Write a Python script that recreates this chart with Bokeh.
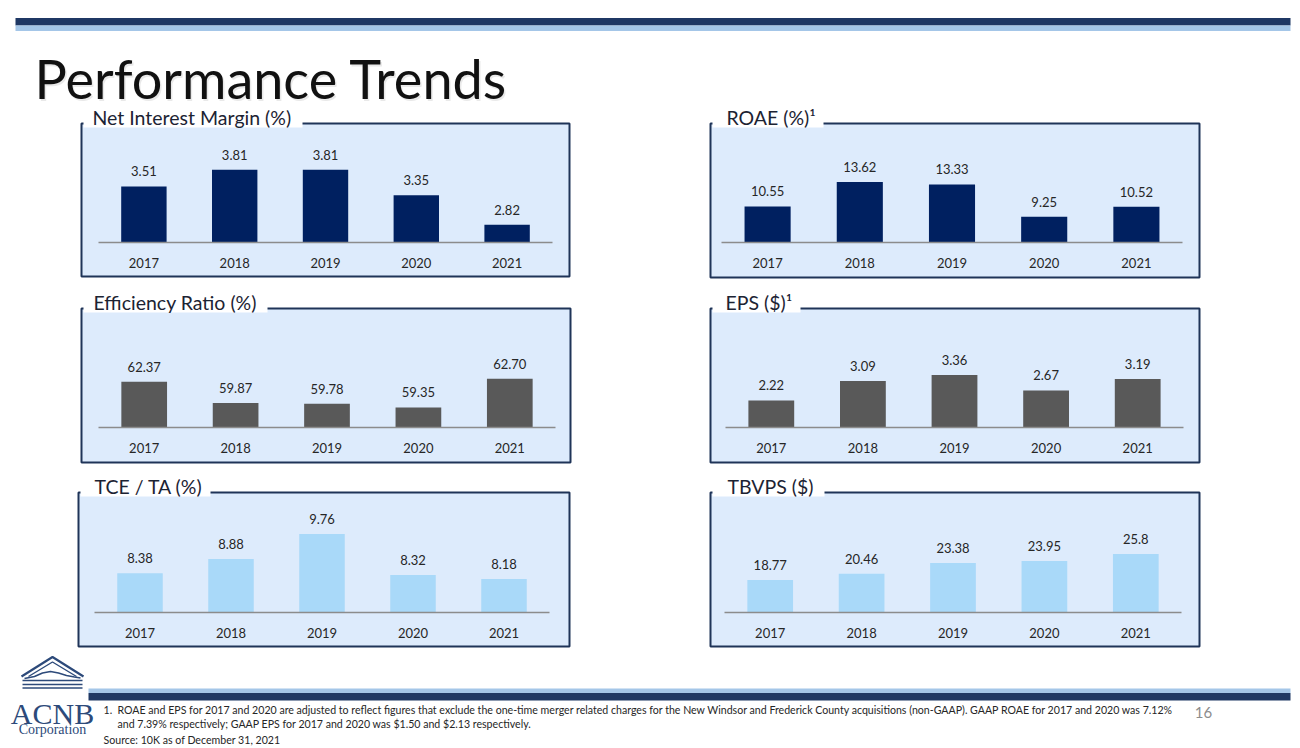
from bokeh.plotting import figure
from bokeh.models import Range1d, ColumnDataSource
from bokeh.core.properties import value
from bokeh.embed import file_html
from bokeh.resources import INLINE

# ---- data -------------------------------------------------------------
years = ["2017", "2018", "2019", "2020", "2021"]
net_interest_margin = [3.51, 3.81, 3.81, 3.35, 2.82]
roae = [10.55, 13.62, 13.33, 9.25, 10.52]
efficiency_ratio = [62.37, 59.87, 59.78, 59.35, 62.70]
eps = [2.22, 3.09, 3.36, 2.67, 3.19]
tce_ta = [8.38, 8.88, 9.76, 8.32, 8.18]
tbvps = [18.77, 20.46, 23.38, 23.95, 25.80]

panel_titles = ["Net Interest Margin (%)", "ROAE (%)\u00b9", "Efficiency Ratio (%)",
                "EPS ($)\u00b9", "TCE / TA (%)", "TBVPS ($)"]

# value-axis bounds of each chart (min, max)
axis_bounds = [(2.5, 4.5), (6, 20), (57, 70), (1, 6), (7, 10.9), (10, 40)]

footnote_1 = ("ROAE and EPS for 2017 and 2020 are adjusted to reflect figures that exclude the one-time "
              "merger related charges for the New Windsor and Frederick County acquisitions (non-GAAP).  "
              "GAAP ROAE for 2017 and 2020 was 7.12%")
footnote_2 = "and 7.39% respectively; GAAP EPS for 2017 and 2020 was $1.50 and $2.13 respectively."
source_note = "Source:  10K as of December 31, 2021"


def fixed2(v):
    return "%.2f" % v


def general(v):
    return ("%.2f" % v).rstrip("0").rstrip(".")


# ---- styling / layout ---------------------------------------------------
W, H = 1300, 748
NAVY = "#002060"
GRAY = "#595959"
LIGHT = "#A9D9F9"
PANEL_BG = "#DDEBFC"
FRAME = "#1F3458"
STRIPE_DARK = "#1F3864"
STRIPE_LIGHT = "#A4C6E8"
TEXT = "#262626"
FONT = value("Lato")
PLOT_H = 111  # pixels between baseline and top of value axis

# frame (left, right, top, bottom), tab right edge, title x, category axis span, baseline
layout = [
    dict(frame=(81, 569, 123, 276), tab=302, tx=92, axis=(98, 552), base=242, color=NAVY, fmt=fixed2),
    dict(frame=(710, 1199, 123, 277), tab=823, tx=726, axis=(721, 1182), base=242, color=NAVY, fmt=fixed2),
    dict(frame=(81, 570, 308, 462), tab=267, tx=93, axis=(98, 555), base=427, color=GRAY, fmt=fixed2),
    dict(frame=(710, 1199, 308, 462), tab=800, tx=725, axis=(725, 1183), base=427, color=GRAY, fmt=fixed2),
    dict(frame=(78, 569, 492, 646), tab=210, tx=94, axis=(94, 549), base=612, color=LIGHT, fmt=fixed2),
    dict(frame=(710, 1199, 492, 646), tab=824, tx=727, axis=(724, 1181), base=612, color=LIGHT, fmt=general),
]
series = [net_interest_margin, roae, efficiency_ratio, eps, tce_ta, tbvps]

p = figure(width=W, height=H, x_range=Range1d(0, W), y_range=Range1d(H, 0),
           output_backend="svg", toolbar_location=None, min_border=0,
           x_axis_location=None, y_axis_location=None)
p.grid.visible = False
p.outline_line_color = None
p.background_fill_color = "white"
p.border_fill_color = "white"

# ---- header ---------------------------------------------------------------
p.quad(left=15, right=1290, top=17.5, bottom=25, fill_color=STRIPE_DARK, line_color=None)
p.quad(left=15, right=1290, top=25, bottom=30.5, fill_color=STRIPE_LIGHT, line_color=None)
p.text(x=[35.5], y=[79.5], text=["Performance Trends"], text_font=FONT, text_font_size="54px",
       text_color="#9a9a9a", text_alpha=0.22, text_baseline="alphabetic")
p.text(x=[34], y=[78], text=["Performance Trends"], text_font=FONT, text_font_size="54px",
       text_color="#111111", text_baseline="alphabetic")

# ---- charts ---------------------------------------------------------------
n = len(years)
idx = list(range(n))
for i, (title, vals, (vmin, vmax), cfg) in enumerate(zip(panel_titles, series, axis_bounds, layout)):
    l, r, t, b = cfg["frame"]
    p.quad(left=l, right=r, top=t, bottom=b, fill_color=PANEL_BG,
           line_color=FRAME, line_width=2)

    ax0, ax1 = cfg["axis"]
    step = (ax1 - ax0) / n
    xr, yr = "x%d" % i, "y%d" % i
    p.extra_x_ranges[xr] = Range1d((0 - ax0) / step - 0.5, (W - ax0) / step - 0.5)
    k = PLOT_H / (vmax - vmin)
    base = cfg["base"]
    p.extra_y_ranges[yr] = Range1d(vmin + (base - H) / k, vmin + base / k)

    src = ColumnDataSource(dict(x=idx, v=vals, year=years,
                                label=[cfg["fmt"](v) for v in vals],
                                floor=[vmin] * n))
    p.vbar(x="x", top="v", bottom="floor", width=0.5, source=src,
           fill_color=cfg["color"], line_color=None, x_range_name=xr, y_range_name=yr)
    p.segment(x0=[-0.5], x1=[n - 0.5], y0=[vmin], y1=[vmin], line_color="#8C8C8C",
              line_width=1.6, x_range_name=xr, y_range_name=yr)
    p.text(x="x", y="v", text="label", source=src, y_offset=-15, text_align="center",
           text_baseline="middle", text_font=FONT, text_font_size="13px", text_color=TEXT,
           x_range_name=xr, y_range_name=yr)
    p.text(x="x", y="floor", text="year", source=src, y_offset=20, text_align="center",
           text_baseline="middle", text_font=FONT, text_font_size="13px", text_color=TEXT,
           x_range_name=xr, y_range_name=yr)

    # title tab over the top-left of the frame
    p.quad(left=l + 2, right=cfg["tab"], top=t - 18, bottom=t + 4, fill_color="white", line_color=None)
    p.text(x=[cfg["tx"]], y=[t - 6], text=[title], text_font=FONT, text_font_size="19.5px",
           text_color="#1C2333", text_baseline="middle")

# ---- footer ---------------------------------------------------------------
p.quad(left=88, right=1290, top=688, bottom=692.5, fill_color=STRIPE_LIGHT, line_color=None)
p.quad(left=88, right=1290, top=692.5, bottom=700, fill_color=STRIPE_DARK, line_color=None)

LOGO = "#2D4A7A"
p.line(x=[21, 52, 83], y=[676, 656.5, 676], line_color=LOGO, line_width=2.2)
p.line(x=[28, 52, 76], y=[676, 661.5, 676], line_color=LOGO, line_width=1.4)
p.multi_line(xs=[[22, 82], [22, 82], [22, 82]], ys=[[680, 680], [684, 684], [687.5, 687.5]],
             line_color=LOGO, line_width=1.6)
p.line(x=[24, 34, 42, 50, 58, 66, 74, 80], y=[678, 676, 672.5, 671, 672.5, 675, 676.5, 677.5],
       line_color=LOGO, line_width=1.6)
p.text(x=[52], y=[713], text=["ACNB"], text_font=value("Liberation Serif"), text_font_size="30px",
       text_color=LOGO, text_align="center", text_baseline="alphabetic")
p.text(x=[52], y=[729], text=["Corporation"], text_font=value("Liberation Serif"),
       text_font_size="14px", text_color=LOGO, text_align="center", text_baseline="alphabetic")

FN = "10.6px"
p.text(x=[103], y=[709], text=["1."], text_font=FONT, text_font_size=FN,
       text_color=TEXT, text_baseline="middle")
p.text(x=[117], y=[709], text=[footnote_1], text_font=FONT, text_font_size=FN,
       text_color=TEXT, text_baseline="middle")
p.text(x=[117], y=[723], text=[footnote_2], text_font=FONT, text_font_size=FN,
       text_color=TEXT, text_baseline="middle")
p.text(x=[103], y=[739], text=[source_note], text_font=FONT, text_font_size=FN,
       text_color=TEXT, text_baseline="middle")
p.text(x=[1203], y=[712], text=["16"], text_font=FONT, text_font_size="15px",
       text_color="#8C8C8C", text_align="center", text_baseline="middle")

open("out.html", "w").write(file_html(p, INLINE))
